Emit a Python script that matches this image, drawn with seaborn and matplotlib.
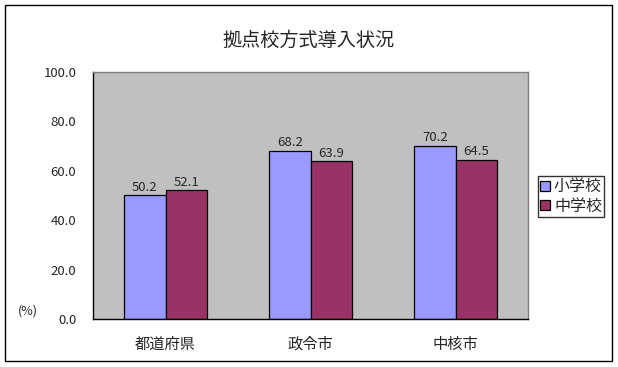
import matplotlib
matplotlib.use('Agg')
import matplotlib.pyplot as plt
from matplotlib.patches import Rectangle
import seaborn as sns
import pandas as pd

categories = ['都道府県', '政令市', '中核市']
series_names = ['小学校', '中学校']
elementary = [50.2, 68.2, 70.2]
junior_high = [52.1, 63.9, 64.5]
title = '拠点校方式導入状況'
y_ticks = [0, 20, 40, 60, 80, 100]

df = pd.DataFrame({
    'category': categories * 2,
    'school': [series_names[0]] * 3 + [series_names[1]] * 3,
    'value': elementary + junior_high,
})

sns.set_style('white')
plt.rcParams['font.family'] = ['Noto Sans CJK JP', 'DejaVu Sans']

fig = plt.figure(figsize=(6.18, 3.67), dpi=100)
ax = fig.add_axes([0.1505, 0.1308, 0.704, 0.673])
ax.set_facecolor('#C0C0C0')

sns.barplot(data=df, x='category', y='value', hue='school',
            palette=['#9999FF', '#993366'], width=0.57, gap=0,
            edgecolor='black', linewidth=0.9, saturation=1, ax=ax, legend=True)

for c in ax.containers:
    ax.bar_label(c, fmt='%.1f', padding=1, fontsize=9.5)

ax.set_ylim(0, 100)
ax.set_xlim(-0.5, 2.5)
ax.set_yticks(y_ticks)
ax.set_yticklabels(['%.1f' % v for v in y_ticks], fontsize=9.5)
ax.tick_params(axis='y', direction='in', length=5, pad=12, color='black')
ax.set_xticks([0, 1, 2])
ax.set_xticklabels(categories, fontsize=11)
ax.tick_params(axis='x', which='major', length=0, pad=12)
ax.set_xticks([0.5, 1.5], minor=True)
ax.tick_params(axis='x', which='minor', direction='in', length=5, color='black')
ax.set_xlabel('')
ax.set_ylabel('')
for side in ['left', 'bottom']:
    ax.spines[side].set_color('black')
    ax.spines[side].set_linewidth(1)
for side in ['top', 'right']:
    ax.spines[side].set_color('#808080')
    ax.spines[side].set_linewidth(1)

fig.text(0.5, 0.891, title, ha='center', va='center', fontsize=13.8)
fig.text(0.045, 0.152, '(%)', ha='center', va='center', fontsize=9)

ax.get_legend().remove()
handles, labels = ax.get_legend_handles_labels()
leg = fig.legend(handles, labels, loc='center left',
                 bbox_to_anchor=(538 / 618, 1 - 196.5 / 367),
                 frameon=True, fancybox=False, fontsize=11.5,
                 handlelength=0.6, handleheight=0.6, handletextpad=0.25,
                 borderpad=0.15, labelspacing=0.15, borderaxespad=0)
leg.get_frame().set_edgecolor('black')
leg.get_frame().set_linewidth(1)

fig.patches.append(Rectangle((5 / 618, 6 / 367), 607 / 618, 356 / 367,
                             transform=fig.transFigure, fill=False,
                             edgecolor='black', linewidth=1))

fig.savefig('out.png', dpi=100)
